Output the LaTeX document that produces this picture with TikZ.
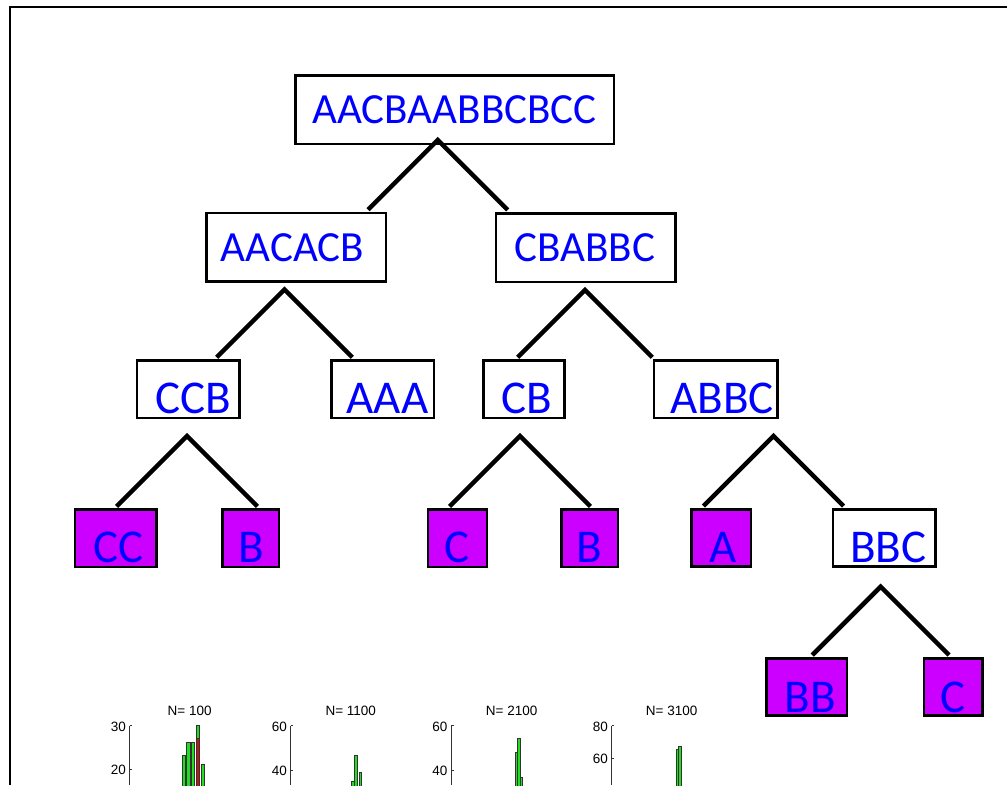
\documentclass[tikz,border=0pt]{standalone}
\usepackage{fontspec}
\setmainfont{Carlito}
\newfontfamily\plotfont{Liberation Sans}
\usetikzlibrary{calc}
\definecolor{leafpurple}{HTML}{CC00FF}
\definecolor{labelblue}{HTML}{0000FF}
\definecolor{bargreen}{HTML}{22DD22}
\definecolor{barred}{HTML}{CC1111}

% fork from a split point (#1) down to the left (#2) and right (#3) children, at 45 degrees
\newcommand{\fork}[3]{%
  \draw[edge] let \p1=(#1), \p2=(#2.north), \p3=(#3.north) in
    (\x1-\y1+\y2+2pt,\y2+2pt) -- (\p1) -- (\x1+\y1-\y3-2pt,\y3+2pt);}

\begin{document}
\begin{tikzpicture}[x=1pt,y=-1pt,
  seqbox/.style={draw=black, line width=2.5pt, fill=white, text=labelblue,
    inner sep=0pt, text depth=0pt},
  bigseq/.style={seqbox, font=\fontsize{43}{43}\selectfont, text height=27.7pt,
    minimum height=68.5},
  smallseq/.style={seqbox, font=\fontsize{47}{47}\selectfont, text height=48pt,
    minimum height=57.3},
  leaf/.style={smallseq, fill=leafpurple},
  edge/.style={line width=4.5pt, line join=miter, line cap=butt},
  frameline/.style={line width=2pt},
  axisline/.style={line width=0.8pt, draw=black!80},
  ticklab/.style={font=\plotfont\fontsize{13.5}{13.5}\selectfont, anchor=east, inner sep=0pt},
  plottitle/.style={font=\plotfont\fontsize{13.5}{13.5}\selectfont, anchor=base, inner sep=0pt},
  gbar/.style={fill=bargreen, draw=black!80, line width=0.45pt},
  rbar/.style={fill=barred, draw=black!80, line width=0.45pt},
]
\useasboundingbox (0,0) rectangle (1007,785);

% outer frame (top and left edges)
\draw[frameline] (1007,7) -- (10,7) -- (10,785);

% ---- tree nodes ----
\node[bigseq, minimum width=318.5] (root) at (454.5,109.7) {AACBAABBCBCC};

\node[bigseq, minimum width=179.8] (aacacb) at (296.2,247.2) {AACACB\hspace*{7.4pt}};
\node[bigseq, minimum width=179.2] (cbabbc) at (585.8,247.5) {CBABBC\hspace*{2pt}};

\node[smallseq, minimum width=102.5] (ccb)  at (188.2,389.2) {\hspace*{10pt}CCB};
\node[smallseq, minimum width=102.5] (aaa)  at (382.5,389.2) {\hspace*{10pt}AAA};
\node[smallseq, minimum width=80.9]  (cb)   at (524,389.2)   {\hspace*{6pt}CB};
\node[smallseq, minimum width=123.8] (abbc) at (715.8,389.2) {\hspace*{13pt}ABBC};

\node[leaf, minimum width=81.2]     (cc)   at (115.8,538.3) {\hspace*{5pt}CC};
\node[leaf, minimum width=56.5]     (b1)   at (250.5,538.3) {\hspace*{2pt}B};
\node[leaf, minimum width=59.1]     (c1)   at (457.5,538.3) {C};
\node[leaf, minimum width=56.5]     (b2)   at (589.5,538.3) {B};
\node[leaf, minimum width=59.8]     (a1)   at (721.2,538)   {\hspace*{4pt}A};
\node[smallseq, minimum width=102.5] (bbc) at (884.2,538)   {\hspace*{8pt}BBC};

\node[leaf, minimum width=80.8, text height=51pt] (bb) at (806.7,687) {\hspace*{7pt}BB};
\node[leaf, minimum width=58.8, text height=51pt] (c2) at (953.3,687) {C};

% ---- split points ----
\coordinate (root-split)   at (437.7,140);
\coordinate (aacacb-split) at (284.5,289.5);
\coordinate (cbabbc-split) at (585,290);
\coordinate (ccb-split)    at (187,436);
\coordinate (cb-split)     at (520,436);
\coordinate (abbc-split)   at (773.5,436);
\coordinate (bbc-split)    at (880.7,586.7);

% ---- connectors ----
\fork{root-split}{aacacb}{cbabbc}
\fork{aacacb-split}{ccb}{aaa}
\fork{cbabbc-split}{cb}{abbc}
\fork{ccb-split}{cc}{b1}
\fork{cb-split}{c1}{b2}
\fork{abbc-split}{a1}{bbc}
\fork{bbc-split}{bb}{c2}

% ---- histogram panel 1 ----
\node[plottitle] (h1title) at (189.7,715.7) {N= 100};
\draw[axisline] (129.7,725.7) -- (129.7,785);
\draw[axisline] (129.7,725.7) -- ++(2.5,0) (129.7,769) -- ++(2.5,0);
\node[ticklab] (h1y30) at (126,726.5) {30};
\node[ticklab] (h1y20) at (126,769.5) {20};
\draw[gbar] (181.9,755.7) rectangle (184.9,786);
\draw[gbar] (186.5,742.3) rectangle (189.8,786);
\draw[gbar] (190.9,742.3) rectangle (194.2,786);
\draw[gbar] (196,725) rectangle (199,738);
\draw[rbar] (196,738) rectangle (199,786);
\draw[gbar] (201.4,764) rectangle (204.3,786);

% ---- histogram panel 2 ----
\node[plottitle] (h2title) at (350.8,715.7) {N= 1100};
\draw[axisline] (290.7,725.7) -- (290.7,785);
\draw[axisline] (290.7,725.7) -- ++(2.5,0) (290.7,770) -- ++(2.5,0);
\node[ticklab] (h2y60) at (287,727) {60};
\node[ticklab] (h2y40) at (287,770.5) {40};
\draw[gbar] (351.5,781) rectangle (353.9,786);
\draw[gbar] (354.5,755) rectangle (357.2,786);
\draw[gbar] (358.8,772.7) rectangle (361.2,786);

% ---- histogram panel 3 ----
\node[plottitle] (h3title) at (511.7,715.7) {N= 2100};
\draw[axisline] (451,725.7) -- (451,785);
\draw[axisline] (451,725.7) -- ++(2.5,0) (451,770) -- ++(2.5,0);
\node[ticklab] (h3y60) at (447.5,727) {60};
\node[ticklab] (h3y40) at (447.5,770.5) {40};
\draw[gbar] (515,752.7) rectangle (517.4,786);
\draw[gbar] (517.4,738.3) rectangle (520,786);
\draw[gbar] (520,777) rectangle (522.4,786);

% ---- histogram panel 4 ----
\node[plottitle] (h4title) at (671.7,715.7) {N= 3100};
\draw[axisline] (611.7,725.7) -- (611.7,785);
\draw[axisline] (611.7,725.7) -- ++(2.5,0) (611.7,758.3) -- ++(2.5,0);
\node[ticklab] (h4y80) at (608,727) {80};
\node[ticklab] (h4y60) at (608,758.8) {60};
\draw[gbar] (675.8,749.3) rectangle (678.3,786);
\draw[gbar] (678.3,746) rectangle (680.9,786);
\end{tikzpicture}
\end{document}
